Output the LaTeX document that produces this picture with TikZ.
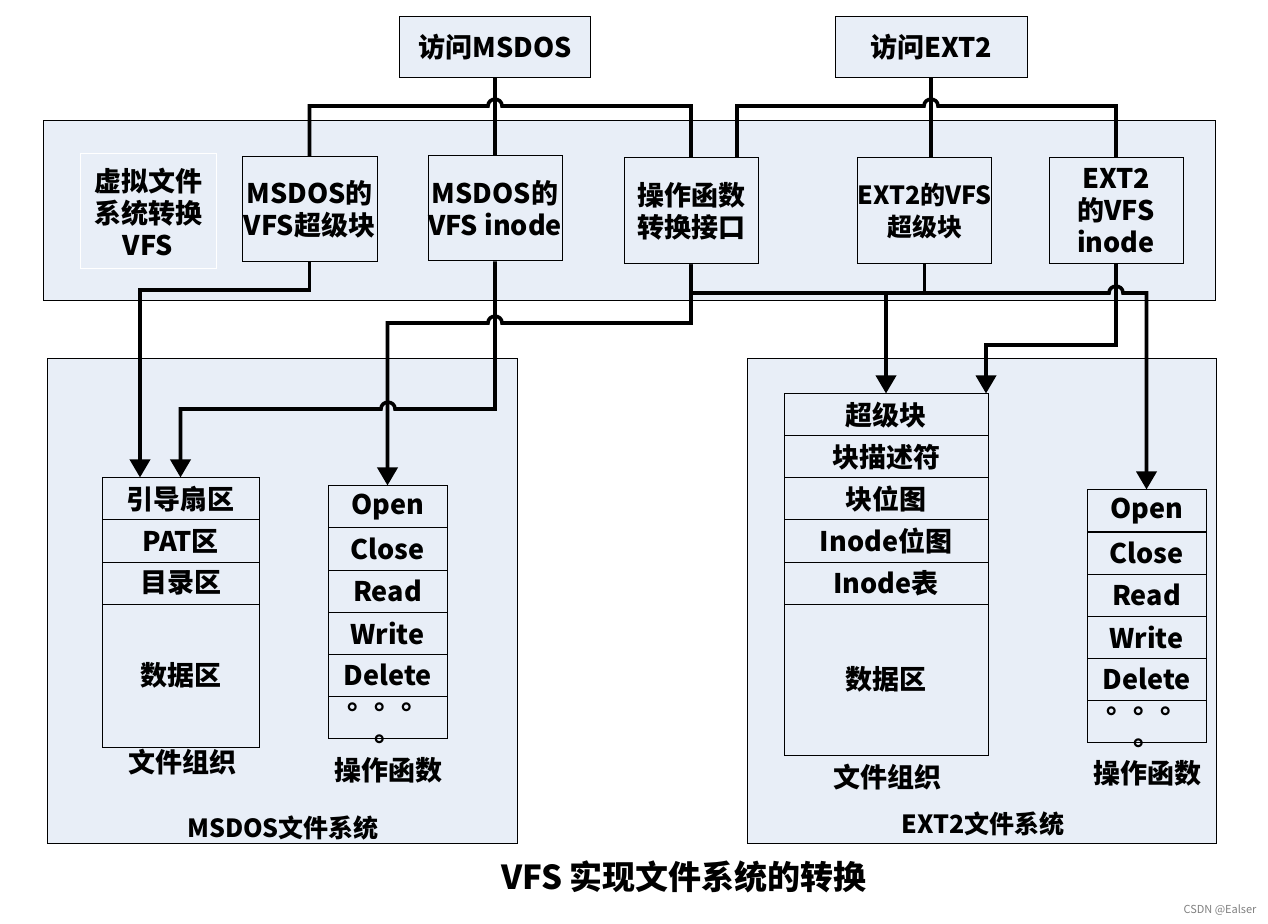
\documentclass[tikz,border=0pt]{standalone}
\usepackage{fontspec}
\usepackage{tikz}
\usetikzlibrary{arrows.meta}
\newfontfamily\cjk{Noto Sans CJK SC}
\definecolor{vfsblue}{RGB}{232,238,247}
\newcommand{\opdots}{\raisebox{4pt}[0pt][0pt]{\begin{tabular}[t]{@{}c@{}}。。。\\。\end{tabular}}}

\begin{document}
\begin{tikzpicture}[x=0.5pt,y=-0.5pt]
\tikzstyle{txt}=[font=\cjk\bfseries\fontsize{13.5}{16}\selectfont]
\tikzstyle{box}=[txt,draw,fill=vfsblue,line width=0.5pt,inner sep=0pt,align=center]
\tikzstyle{mcell}=[box,minimum width=78.5pt,minimum height=21pt]
\tikzstyle{ecell}=[box,minimum width=102pt,minimum height=21pt]
\tikzstyle{opcell}=[box,minimum width=59.5pt,minimum height=21pt]
\tikzstyle{link}=[line width=1.8pt]
\tikzstyle{arr}=[link,-{Triangle[length=9pt,width=10pt]}]
    \useasboundingbox (0,0) rectangle (1268,924);
    % panels
    \node[box,minimum width=586pt,minimum height=90pt] (band) at (629,211) {};
    \node[box,minimum width=235pt,minimum height=242pt] (mfs) at (282,601) {};
    \node[box,minimum width=234.5pt,minimum height=242pt] (efs) at (981.5,601) {};
    \node[box,minimum width=95.5pt,minimum height=30.5pt] (msdos) at (495,47.5) {访问MSDOS};
    \node[box,minimum width=96pt,minimum height=30.5pt] (ext2) at (931,47.5) {访问EXT2};
    % vfs layer
    \node[box,draw=white,minimum width=68pt,minimum height=57.5pt] (vfs) at (148,211.5) {虚拟文件\\系统转换\\VFS};
    \node[box,minimum width=67.5pt,minimum height=52.5pt] (msb) at (309.5,209.5) {MSDOS的\\VFS超级块};
    \node[box,minimum width=67pt,minimum height=52.5pt] (mino) at (495,208.5) {MSDOS的\\VFS~inode};
    \node[box,minimum width=67pt,minimum height=53pt] (ops) at (691,211) {操作函数\\转换接口};
    \node[box,font=\cjk\bfseries\fontsize{12.5}{16}\selectfont,minimum width=66.5pt,minimum height=53pt] (esb) at (924.5,211) {EXT2的VFS\\超级块};
    \node[box,minimum width=67pt,minimum height=53pt] (eino) at (1116,211) {EXT2\\的VFS\\inode};
    % msdos
    \node[mcell] (boot) at (180.5,499) {引导扇区};
    \node[mcell] (pat) at (180.5,541) {PAT区};
    \node[mcell] (dir) at (180.5,583) {目录区};
    \node[mcell,minimum height=71.5pt] (mdata) at (180.5,675.5) {数据区};
    \node[txt] (morg) at (182,762) {文件组织};
    \node[opcell] (mopen) at (387.5,507) {Open};
    \node[opcell] (mclose) at (387.5,549) {Close};
    \node[opcell] (mread) at (387.5,591) {Read};
    \node[opcell] (mwrite) at (387.5,633) {Write};
    \node[opcell] (mdel) at (387.5,675) {Delete};
    \node[opcell] (mdots) at (387.5,717) {\opdots};
    \node[txt] (mopsl) at (388,770) {操作函数};
    \node[txt,font=\cjk\bfseries\fontsize{12.5}{15}\selectfont] (mfsl) at (283,828) {MSDOS文件系统};
    % ext2
    \node[ecell] (esup) at (886,415) {超级块};
    \node[ecell] (edesc) at (886,457) {块描述符};
    \node[ecell] (ebmap) at (886,499) {块位图};
    \node[ecell] (eimap) at (886,541) {Inode位图};
    \node[ecell] (eitab) at (886,583) {Inode表};
    \node[ecell,minimum height=75.5pt] (edata) at (886,679.5) {数据区};
    \node[txt] (eorg) at (887,777) {文件组织};
    \node[opcell] (eopen) at (1146.5,511) {Open};
    \node[opcell] (eclose) at (1146.5,553) {Close};
    \node[opcell] (eread) at (1146.5,595) {Read};
    \node[opcell] (ewrite) at (1146.5,637) {Write};
    \node[opcell] (edel) at (1146.5,679) {Delete};
    \node[opcell] (edots) at (1146.5,721) {\opdots};
    \node[txt] (eopsl) at (1147,773) {操作函数};
    \node[txt,font=\cjk\bfseries\fontsize{12.5}{15}\selectfont] (efsl) at (983,824) {EXT2文件系统};
    \node[txt,font=\cjk\bfseries\fontsize{16.5}{20}\selectfont] (title) at (684,877) {VFS 实现文件系统的转换};
    \node[font=\cjk\fontsize{5.5}{6}\selectfont,text=gray] (mark) at (1220,910) {CSDN @Ealser};
    % links
    \coordinate (k1) at (140,290);
    \coordinate (k2) at (886,293);
    \coordinate (k3) at (986,345);
    \draw[link] (msdos.south) -- (mino.north);
    \draw[link] (msb.north) |- (488,106) .. controls (488,97) and (502,97) .. (502,106) -| (ops.north);
    \draw[link] (ext2.south) -- (ext2.south |- esb.north);
    \draw[link] ([xshift=23pt]ops.north) |- (924,106) .. controls (924,97) and (938,97) .. (938,106) -| (eino.north);
    \draw[arr] (msb.south) |- (k1) -- (k1 |- boot.north);
    \draw[arr] (mino.south) |- (395,409) .. controls (395,400) and (381,400) .. (381,409) -| (boot.north);
    \draw[arr] (ops.south) |- (502,323) .. controls (502,314) and (488,314) .. (488,323) -| (mopen.north);
    \draw[arr] (ops.south) |- (1109,293) .. controls (1109,284) and (1123,284) .. (1123,293) -| (eopen.north);
    \draw[arr] (esb.south) |- (k2) -- (esup.north);
    \draw[arr] (eino.south) |- (k3) -- (k3 |- esup.north);
\end{tikzpicture}
\end{document}
